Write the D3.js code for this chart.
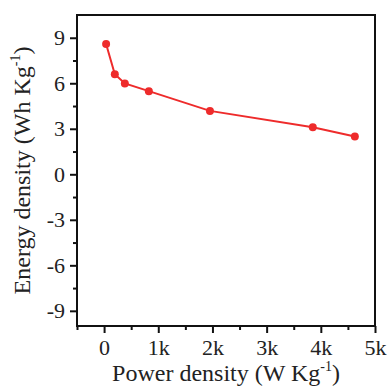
<!DOCTYPE html>
<html>
<head>
<meta charset="utf-8">
<script src="https://cdn.jsdelivr.net/npm/d3@7"></script>
<style>
  html, body { margin: 0; padding: 0; background: #fff; }
  svg text, svg tspan { font-family: 'Liberation Serif', 'Times New Roman', serif !important; }
</style>
</head>
<body>
<svg id="chart" width="387" height="386"></svg>
<script>
// power density (W/kg) vs energy density (Wh/kg)
const powerDensity = [37, 198, 383, 826, 1954, 3852, 4628];
const energyDensity = [8.59, 6.6, 5.99, 5.48, 4.18, 3.1, 2.49];

const xTicks = [0, 1000, 2000, 3000, 4000, 5000];
const xTickLabels = ['0', '1k', '2k', '3k', '4k', '5k'];
const yTicks = [-9, -6, -3, 0, 3, 6, 9];

const fontName = 'Liberation Serif';
const width = 387, height = 386;
const margin = {top: 15, right: 12, bottom: 60, left: 77};
const w = width - margin.left - margin.right;
const h = height - margin.top - margin.bottom;

const svg = d3.select('#chart')
    .attr('font-family', fontName);
const g = svg.append('g')
    .attr('transform', 'translate(' + margin.left + ',' + margin.top + ')');

const scaleX = d3.scaleLinear().domain([-500, 5000]).range([0, w]);
const scaleY = d3.scaleLinear().domain([-10, 10.5]).range([h, 0]);

// minor ticks (half steps) first, then major ticks with labels
const xMinor = d3.range(-500, 5001, 1000);
const yMinor = d3.range(-7.5, 10.5, 3);

g.append('g')
    .attr('transform', 'translate(0,' + h + ')')
    .call(d3.axisBottom(scaleX).tickValues(xMinor).tickSize(4).tickFormat(''))
    .call(a => a.select('.domain').remove())
    .call(a => a.selectAll('line').attr('stroke', '#111').attr('stroke-width', 2));

g.append('g')
    .call(d3.axisLeft(scaleY).tickValues(yMinor).tickSize(4).tickFormat(''))
    .call(a => a.select('.domain').remove())
    .call(a => a.selectAll('line').attr('stroke', '#111').attr('stroke-width', 2));

const xAxis = g.append('g')
    .attr('transform', 'translate(0,' + h + ')')
    .call(d3.axisBottom(scaleX).tickValues(xTicks).tickSize(7).tickPadding(6)
        .tickFormat((d, i) => xTickLabels[i]));
xAxis.attr('font-family', fontName).attr('font-size', 22);
xAxis.select('.domain').remove();
xAxis.selectAll('line').attr('stroke', '#111').attr('stroke-width', 2);
xAxis.selectAll('text').attr('fill', '#222');

const yAxis = g.append('g')
    .call(d3.axisLeft(scaleY).tickValues(yTicks).tickSize(7).tickPadding(5)
        .tickFormat(d => String(d)));
yAxis.attr('font-family', fontName).attr('font-size', 22);
yAxis.select('.domain').remove();
yAxis.selectAll('line').attr('stroke', '#111').attr('stroke-width', 2);
yAxis.selectAll('text').attr('fill', '#222');

// frame
g.append('rect')
    .attr('x', 0).attr('y', 0)
    .attr('width', w).attr('height', h)
    .attr('fill', 'none')
    .attr('stroke', '#111')
    .attr('stroke-width', 2);

// data line and markers
const pts = powerDensity.map((p, i) => [p, energyDensity[i]]);
g.append('path')
    .datum(pts)
    .attr('fill', 'none')
    .attr('stroke', '#ee2b2b')
    .attr('stroke-width', 2)
    .attr('d', d3.line().x(d => scaleX(d[0])).y(d => scaleY(d[1])));

g.selectAll('circle')
    .data(pts)
    .enter().append('circle')
    .attr('cx', d => scaleX(d[0]))
    .attr('cy', d => scaleY(d[1]))
    .attr('r', 4)
    .attr('fill', '#ee2b2b');

// axis titles
const xTitle = svg.append('text')
    .attr('x', margin.left + w / 2)
    .attr('y', 381)
    .attr('text-anchor', 'middle')
    .attr('fill', '#222')
    .attr('font-size', 24);
xTitle.append('tspan').text('Power density (W Kg');
xTitle.append('tspan').attr('dy', -10).attr('font-size', 14).text('-1');
xTitle.append('tspan').attr('dy', 10).text(')');

const yTitle = svg.append('text')
    .attr('transform', 'translate(30,' + (margin.top + h / 2) + ') rotate(-90)')
    .attr('text-anchor', 'middle')
    .attr('fill', '#222')
    .attr('font-size', 24);
yTitle.append('tspan').text('Energy density (Wh Kg');
yTitle.append('tspan').attr('dy', -10).attr('font-size', 14).text('-1');
yTitle.append('tspan').attr('dy', 10).text(')');
</script>
</body>
</html>
